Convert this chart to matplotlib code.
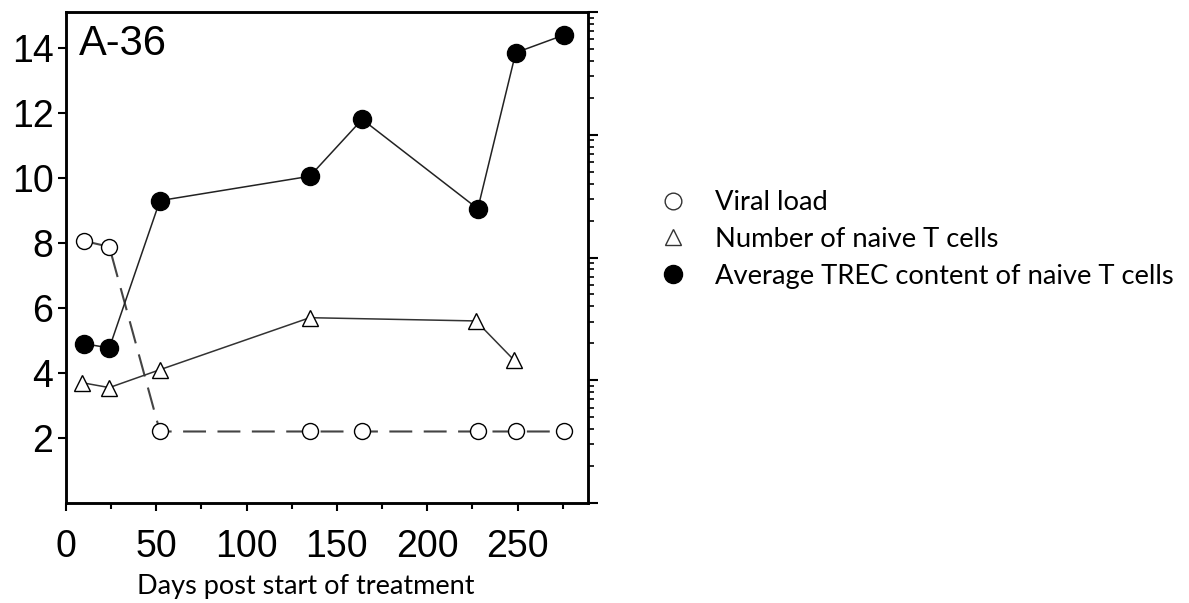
import matplotlib.pyplot as plt
from matplotlib.lines import Line2D
from matplotlib.ticker import LogLocator, NullFormatter, MultipleLocator

# data
days_trec = [10, 24, 52, 135, 164, 228, 249, 276]
trec = [4.9, 4.77, 9.3, 10.05, 11.8, 9.05, 13.85, 14.4]

days_viral = [10, 24, 52, 135, 164, 228, 249, 276]
viral = [8.06, 7.88, 2.2, 2.2, 2.2, 2.2, 2.2, 2.2]

days_naive = [9, 24, 52, 135, 227, 248]
naive = [3.7, 3.55, 4.1, 5.7, 5.6, 4.4]

xticks = [0, 50, 100, 150, 200, 250]
yticks = [2, 4, 6, 8, 10, 12, 14]

tick_font = "Liberation Sans"
label_font = "Lato"

fig = plt.figure(figsize=(11.89, 6.03), dpi=100)
ax = fig.add_axes([0.0555, 0.1658, 0.439, 0.8142])

ax.plot(days_viral, viral, linestyle=(0, (11, 5.5)), color="#444444", lw=1.5,
        marker="o", ms=11.5, mfc="white", mec="black", mew=1.0, zorder=3)
ax.plot(days_naive, naive, color="#333333", lw=1.1,
        marker="^", ms=12, mfc="white", mec="black", mew=1.0, zorder=3)
ax.plot(days_trec, trec, color="#222222", lw=1.1,
        marker="o", ms=13, mfc="black", mec="black", zorder=4)

ax.set_xlim(0, 289)
ax.set_ylim(0, 15.1)
ax.set_xticks(xticks)
ax.xaxis.set_minor_locator(MultipleLocator(25))
ax.set_yticks(yticks)
for sp in ax.spines.values():
    sp.set_linewidth(1.8)
ax.tick_params(axis="both", which="major", direction="out", length=6, width=1.5,
               labelsize=27)
ax.tick_params(axis="x", which="minor", direction="out", length=4.5, width=1.5)
ax.tick_params(axis="x", pad=13)
ax.tick_params(axis="y", pad=3)
for lab in ax.get_xticklabels() + ax.get_yticklabels():
    lab.set_fontfamily(tick_font)

ax.text(0.025, 0.975, "A-36", transform=ax.transAxes, ha="left", va="top",
        fontsize=30, family=tick_font)

ax.set_xlabel("Days post start of treatment", fontsize=19.5, family=label_font)
ax.xaxis.set_label_coords(0.459, -0.145)

# right log axis without labels
ax2 = ax.twinx()
ax2.set_yscale("log")
ax2.set_ylim(10, 1e5)
ax2.yaxis.set_major_locator(LogLocator(base=10, numticks=10))
ax2.yaxis.set_minor_locator(LogLocator(base=10, subs=range(2, 10), numticks=20))
ax2.yaxis.set_major_formatter(NullFormatter())
ax2.yaxis.set_minor_formatter(NullFormatter())
ax2.tick_params(axis="y", which="major", direction="out", length=7, width=1.5)
ax2.tick_params(axis="y", which="minor", direction="out", length=4, width=1.2)
for sp in ax2.spines.values():
    sp.set_linewidth(1.8)

handles = [
    Line2D([], [], linestyle="none", marker="o", ms=12, mfc="white", mec="#333333", mew=1.0),
    Line2D([], [], linestyle="none", marker="^", ms=12, mfc="white", mec="#333333", mew=1.0),
    Line2D([], [], linestyle="none", marker="o", ms=13, mfc="black", mec="black"),
]
labels = ["Viral load", "Number of naive T cells", "Average TREC content of naive T cells"]
fig.legend(handles, labels, loc="center left", bbox_to_anchor=(0.534, 0.603),
           frameon=False, prop={"family": label_font, "size": 19.7},
           handletextpad=1.02, labelspacing=0.43, handlelength=1.0)

fig.savefig("out.png", dpi=100)
